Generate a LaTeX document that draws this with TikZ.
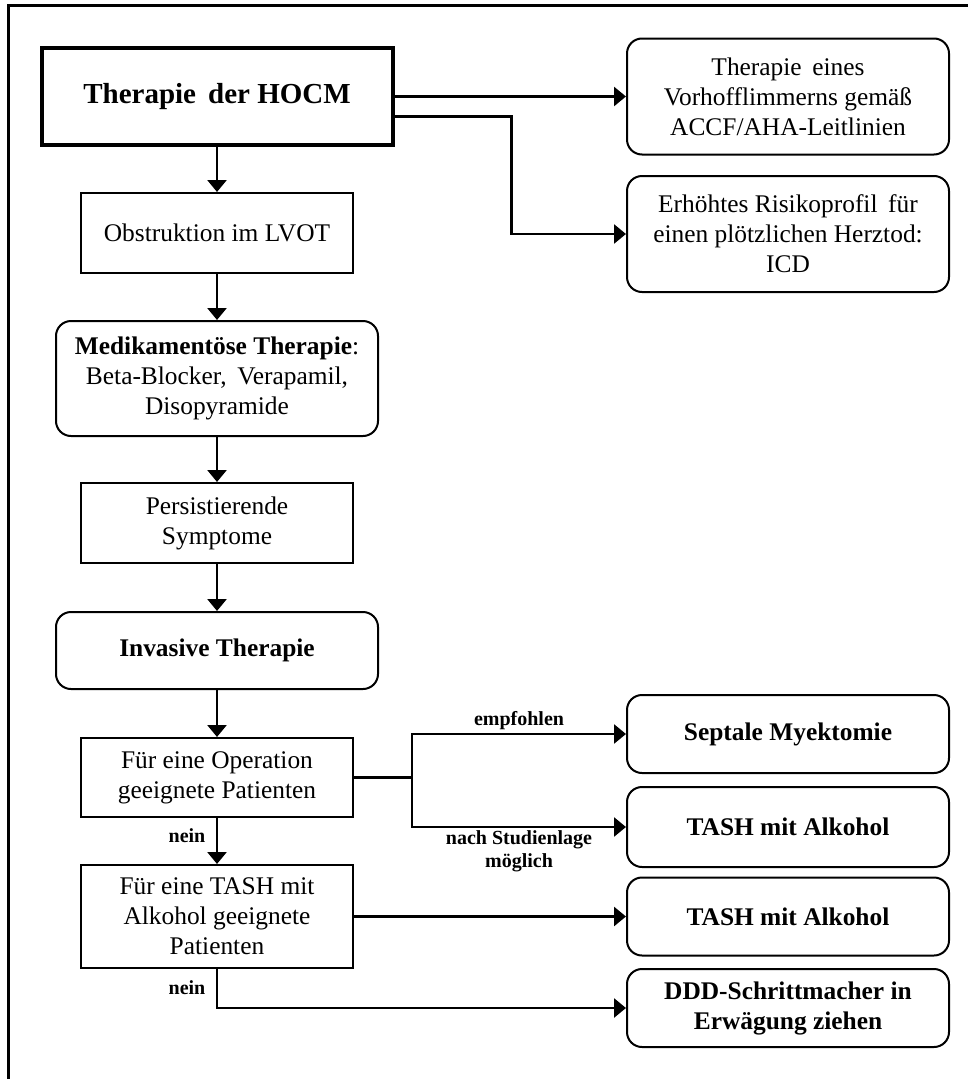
\documentclass[tikz,border=0pt]{standalone}
\usepackage{fontspec}
\setmainfont{Liberation Serif}
\usetikzlibrary{arrows.meta}
\begin{document}
\begin{tikzpicture}[x=1pt,y=-1pt,
  box/.style={draw, line width=2pt, align=center, inner sep=2pt,
    font=\fontsize{25.4}{30}\selectfont},
  rbox/.style={box, rounded corners=15pt},
  sq/.style={box, minimum width=272pt},
  lbox/.style={rbox, minimum width=322pt},
  rr/.style={rbox, minimum width=322pt},
  conn/.style={line width=2.7pt},
  arr/.style={conn, -{Triangle[length=12pt,width=19pt]}},
  lbl/.style={font=\fontsize{20}{23}\selectfont\bfseries, align=center, inner sep=0pt}
]
\useasboundingbox (0,0) rectangle (968,1079);
\draw[line width=3pt] (8.5,1085) -- (8.5,5.5) -- (975,5.5);

% left column
\node[box, line width=4pt, minimum width=351pt, minimum height=97pt,
  font=\fontsize{29}{34}\selectfont\bfseries] (hocm) at (217,96.5) {Therapie\, der HOCM};
\node[sq, minimum height=80pt] (obst) at (217,233) {Obstruktion im LVOT};
\node[lbox, minimum height=115pt] (med) at (217,378.5) {\textbf{Medikamentöse Therapie}:\\Beta-Blocker,\, Verapamil,\\Disopyramide};
\node[sq, minimum height=80pt] (pers) at (217,523) {Persistierende\\Symptome};
\node[lbox, minimum height=77pt, font=\fontsize{25.4}{30}\selectfont\bfseries] (inv) at (217,650.5) {Invasive Therapie};
\node[sq, minimum height=79pt] (op) at (217,777.5) {Für eine Operation\\geeignete Patienten};
\node[sq, minimum height=103pt] (tash) at (217,916.5) {Für eine TASH mit\\Alkohol geeignete\\Patienten};

% right column
\node[rr, minimum height=116pt] (vhf) at (788,96.5) {Therapie\, eines\\Vorhofflimmerns gemäß\\ACCF/AHA-Leitlinien};
\node[rr, minimum height=116pt] (icd) at (788,234) {Erhöhtes Risikoprofil\, für\\einen plötzlichen Herztod:\\ICD};
\node[rr, minimum height=78pt, font=\fontsize{25.4}{30}\selectfont\bfseries] (sept) at (788,734) {Septale Myektomie};
\node[rr, minimum height=80pt, font=\fontsize{25.4}{30}\selectfont\bfseries] (tash1) at (788,827) {TASH mit Alkohol};
\node[rr, minimum height=78pt, font=\fontsize{25.4}{30}\selectfont\bfseries] (tash2) at (788,916.5) {TASH mit Alkohol};
\node[rr, minimum height=78pt, font=\fontsize{25.4}{30}\selectfont\bfseries] (ddd) at (788,1008) {DDD-Schrittmacher in\\Erwägung ziehen};

% vertical chain
\draw[arr] (hocm.south) -- (obst.north);
\draw[arr] (obst.south) -- (med.north);
\draw[arr] (med.south) -- (pers.north);
\draw[arr] (pers.south) -- (inv.north);
\draw[arr] (inv.south) -- (op.north);
\draw[arr] (op.south) -- (tash.north);

% from HOCM
\draw[arr] (hocm.east) -- (hocm.east -| vhf.west);
\draw[arr] ([yshift=-20pt]hocm.east) -- ++(117,0) |- (icd.west);

% from operation box
\draw[conn] (op.east) -- ++(58,0) coordinate (split);
\draw[arr] (split) |- (sept.west);
\draw[arr] (split) |- (tash1.west);

% from TASH box
\draw[arr] (tash.east) -- (tash.east -| tash2.west);
\draw[arr] (tash.south) |- (ddd.west);

% labels
\node[lbl] (lemp) at (519,721) {empfohlen};
\node[lbl] (lnach) at (519,851.5) {nach Studienlage\\möglich};
\node[lbl] (lnein1) at (187,836) {nein};
\node[lbl] (lnein2) at (187,988) {nein};
\end{tikzpicture}
\end{document}
